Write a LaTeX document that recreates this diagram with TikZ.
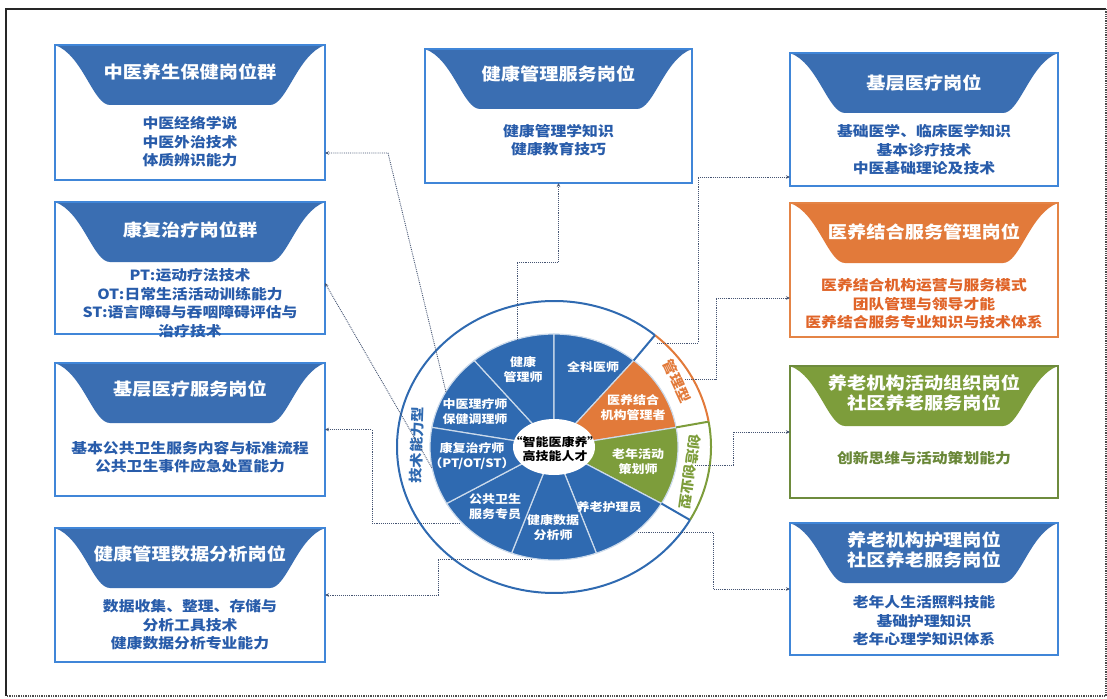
\documentclass[tikz,border=0pt]{standalone}
\usepackage{fontspec}
\setmainfont{Noto Sans CJK SC}[FakeStretch=1.13]
\usetikzlibrary{calc,arrows.meta}
\definecolor{hblue}{RGB}{58,110,178}
\definecolor{bblue}{RGB}{64,134,216}
\definecolor{tblue}{RGB}{40,92,170}
\definecolor{pblue}{RGB}{47,106,177}
\definecolor{horange}{RGB}{226,122,58}
\definecolor{borange}{RGB}{228,132,70}
\definecolor{torange}{RGB}{224,100,40}
\definecolor{hgreen}{RGB}{125,157,59}
\definecolor{bgreen}{RGB}{110,139,61}
\definecolor{tgreen}{RGB}{105,135,55}
\definecolor{conn}{RGB}{70,85,115}
\tikzset{
  jbox/.style={rectangle, draw=#1, line width=1.6pt, fill=white, inner sep=0pt, outer sep=0pt, minimum width=270pt, minimum height=133pt},
  hdr/.style={path picture={
      \coordinate (hA) at (path picture bounding box.north west);
      \coordinate (hB) at (path picture bounding box.north east);
      \fill[#1] (hA) .. controls ($(hA)+(28,10)$) and ($(hA)+(38,60)$) .. ($(hA)+(55,60)$)
        -- ($(hB)+(-55,60)$) .. controls ($(hB)+(-38,60)$) and ($(hB)+(-28,10)$) .. (hB) -- cycle;}},
  ttl/.style={text=white, font=\fontsize{17}{20}\selectfont\bfseries, align=center, inner sep=0pt},
  bdy/.style={text=#1, font=\fontsize{14}{18.5}\selectfont\bfseries, align=center, inner sep=0pt},
  sec/.style={text=white, font=\fontsize{11.5}{15}\selectfont\bfseries, align=center, inner sep=0pt},
  ringlbl/.style={text=#1, font=\fontsize{13.5}{16}\selectfont\bfseries, inner sep=0pt},
  cn/.style={densely dotted, line width=0.9pt, draw=conn, -{Stealth[length=4pt,width=3.5pt]}},
}
\begin{document}
\begin{tikzpicture}[x=1pt,y=-1pt]
\useasboundingbox (0,0) rectangle (1107,698);
% frame
\draw[line width=1.6pt, black!85] (6,696) -- (6,9) -- (1106,9);
\draw[line width=1.3pt, black!70, densely dotted] (1106,9) -- (1106,696) -- (6,696);

% ---------- left boxes ----------
\node[jbox=bblue, hdr=hblue, minimum height=135pt] (B1) at (190,112.5) {};
\node[ttl] (B1t) at ($(B1.north)+(0,27)$) {中医养生保健岗位群};
\node[bdy=tblue] (B1b) at ($(B1.north)+(0,97)$) {中医经络学说\\中医外治技术\\体质辨识能力};

\node[jbox=bblue, hdr=hblue, minimum height=132pt] (B2) at (190,268) {};
\node[ttl] (B2t) at ($(B2.north)+(0,28)$) {康复治疗岗位群};
\node[bdy=tblue] (B2b) at ($(B2.north)+(0,101)$) {PT:运动疗法技术\\OT:日常生活活动训练能力\\ST:语言障碍与吞咽障碍评估与\\治疗技术};

\node[jbox=bblue, hdr=hblue] (B3) at (190,429.5) {};
\node[ttl] (B3t) at ($(B3.north)+(0,26)$) {基层医疗服务岗位};
\node[bdy=tblue] (B3b) at ($(B3.north)+(0,94)$) {基本公共卫生服务内容与标准流程\\公共卫生事件应急处置能力};

\node[jbox=bblue, hdr=hblue, minimum height=134pt] (B4) at (190,595) {};
\node[ttl] (B4t) at ($(B4.north)+(0,26)$) {健康管理数据分析岗位};
\node[bdy=tblue] (B4b) at ($(B4.north)+(0,97)$) {数据收集、整理、存储与\\分析工具技术\\健康数据分析专业能力};

% ---------- top box ----------
\node[jbox=bblue, hdr=hblue, minimum width=267pt, minimum height=134pt] (T) at (558.5,116) {};
\node[ttl] (Tt) at ($(T.north)+(0,25)$) {健康管理服务岗位};
\node[bdy=tblue] (Tb) at ($(T.north)+(0,91)$) {健康管理学知识\\健康教育技巧};

% ---------- right boxes ----------
\node[jbox=bblue, hdr=hblue, minimum width=268pt] (R1) at (924,119.5) {};
\node[ttl] (R1t) at ($(R1.north)+(0,30)$) {基层医疗岗位};
\node[bdy=tblue] (R1b) at ($(R1.north)+(0,97)$) {基础医学、临床医学知识\\基本诊疗技术\\中医基础理论及技术};

\node[jbox=borange, hdr=horange, minimum width=268pt, minimum height=134pt] (R2) at (924,270) {};
\node[ttl] (R2t) at ($(R2.north)+(0,29)$) {医养结合服务管理岗位};
\node[bdy=torange] (R2b) at ($(R2.north)+(0,101)$) {医养结合机构运营与服务模式\\团队管理与领导才能\\医养结合服务专业知识与技术体系};

\node[jbox=bgreen, hdr=hgreen, minimum width=268pt, minimum height=132pt] (R3) at (924,432) {};
\node[ttl] (R3t) at ($(R3.north)+(0,27)$) {养老机构活动组织岗位\\社区养老服务岗位};
\node[bdy=tgreen] (R3b) at ($(R3.north)+(0,92)$) {创新思维与活动策划能力};

\node[jbox=bblue, hdr=hblue, minimum width=268pt, minimum height=132pt] (R4) at (924,589) {};
\node[ttl] (R4t) at ($(R4.north)+(0,27)$) {养老机构护理岗位\\社区养老服务岗位};
\node[bdy=tblue] (R4b) at ($(R4.north)+(0,98)$) {老年人生活照料技能\\基础护理知识\\老年心理学知识体系};

% ---------- wheel ----------
\begin{scope}[shift={(554,447)}, yscale=-1]
  \foreach \a/\c in {130/pblue,90/pblue,50/pblue,10/horange,-30/hgreen,-70/pblue,-110/pblue,-150/pblue,170/pblue}
    \filldraw[fill=\c, draw=white!75!pblue, line width=1.2pt] (0,0) -- (\a:124 and 113)
      arc[start angle=\a, end angle=\a+40, x radius=124, y radius=113] -- cycle;
  \fill[white] (0,0) ellipse [x radius=41, y radius=28];
  \draw[pblue, line width=2pt] (50:157 and 146) arc[start angle=50, end angle=330, x radius=157, y radius=146];
  \draw[horange, line width=2pt] (10:157 and 146) arc[start angle=10, end angle=50, x radius=157, y radius=146];
  \draw[hgreen, line width=2pt] (-30:157 and 146) arc[start angle=-30, end angle=10, x radius=157, y radius=146];
  \draw[pblue, line width=2pt] (50:124 and 113) -- (50:157 and 146);
  \draw[hgreen, line width=2pt] (10:124 and 113) -- (10:157 and 146);
  \draw[pblue, line width=2pt] (-30:124 and 113) -- (-30:157 and 146);
\end{scope}

\node[font=\fontsize{11.5}{14}\selectfont\bfseries, align=center, inner sep=0pt] (ctr) at (555,449) {“智能医康养”\\高技能人才};
\node[sec] (sJG) at (523,370) {健康\\管理师};
\node[sec] (sQK) at (593,367) {全科医师};
\node[sec] (sYY) at (633,408) {医养结合\\机构管理者};
\node[sec] (sLN) at (638,462) {老年活动\\策划师};
\node[sec] (sYL) at (609,507) {养老护理员};
\node[sec] (sSJ) at (553,528) {健康数据\\分析师};
\node[sec] (sGG) at (495,507) {公共卫生\\服务专员};
\node[sec] (sKF) at (472,456) {康复治疗师\\（PT/OT/ST）};
\node[sec] (sZY) at (475,412) {中医理疗师\\保健调理师};

\node[ringlbl=pblue, rotate=88] (rJS) at (417,445) {技术能力型};
\node[ringlbl=horange, rotate=-65] (rGL) at (677,381) {管理型};
\node[ringlbl=hgreen, rotate=-98] (rCZ) at (690,472) {创造创业型};

% ---------- connectors ----------
\coordinate (c1a) at (446,392);
\coordinate (k1) at (388,153);
\draw[cn] (c1a) -- (k1) -- (B1.east |- k1);

\coordinate (c2a) at (432,468);
\draw[cn] (c2a) -- ($(B2.north east)+(0,81)$);

\coordinate (c3a) at (460,523);
\coordinate (k3) at (372,523);
\draw[cn] (c3a) -- (k3) -- (k3 |- B3.east) -- (B3.east);

\coordinate (c4a) at (532,559);
\coordinate (k4) at (438,559);
\draw[cn] (c4a) -- (k4) -- (k4 |- B4.east) -- (B4.east);

\coordinate (c5a) at (517,340);
\coordinate (k5) at (517,262);
\draw[cn] (c5a) -- (k5) -- (k5 -| T.south) -- (T.south);

\coordinate (c6a) at (657,343);
\coordinate (k6) at (698,343);
\coordinate (k6b) at (698,177);
\draw[cn] (c6a) -- (k6) -- (k6b) -- (k6b -| R1.west);

\coordinate (c7a) at (685,379);
\coordinate (k7) at (716,379);
\coordinate (k7b) at (716,298);
\draw[cn] (c7a) -- (k7) -- (k7b) -- (k7b -| R2.west);

\coordinate (c8a) at (695,465);
\coordinate (k8) at (733,465);
\draw[cn] (c8a) -- (k8) -- (k8 |- R3.west) -- (R3.west);

\coordinate (c9a) at (638,532);
\coordinate (k9) at (713,532);
\draw[cn] (c9a) -- (k9) -- (k9 |- R4.west) -- (R4.west);
\end{tikzpicture}
\end{document}
